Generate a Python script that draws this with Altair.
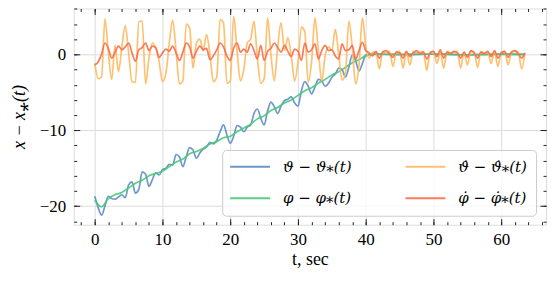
import numpy as np
import pandas as pd
import altair as alt

# ---------------- data ----------------
# theta - theta*(t): samples every 0.5 s from t=0 to 40.5, then a sparse tail
THETA_HEAD = [-18.7, -20.2, -21.2, -20.0, -18.7, -19.0, -19.1, -18.8, -18.5, -18.9,
              -17.2, -16.8, -18.3, -17.8, -15.5, -15.8, -17.4, -16.5, -15.6, -15.9,
              -15.2, -15.0, -14.5, -14.6, -13.2, -13.5, -14.8, -13.5, -12.3, -12.6,
              -13.7, -13.0, -12.5, -12.2, -11.6, -11.8, -11.3, -10.2, -9.3, -10.6,
              -11.7, -10.8, -9.4, -9.6, -10.2, -9.6, -9.3, -7.8, -7.2, -8.4,
              -9.3, -7.5, -6.3, -6.9, -7.8, -6.8, -6.1, -5.9, -5.6, -6.4,
              -6.8, -4.8, -3.6, -4.2, -5.2, -4.3, -3.3, -3.5, -4.2, -3.8,
              -3.0, -2.6, -1.8, -2.0, -3.0, -1.7, -0.1, -0.8, -2.2, -1.2,
              -0.1, 0.0]
THETA_TAIL_T = [42, 45, 48, 51, 54, 57, 60, 63.5]
THETA_TAIL = [0.05, -0.05, 0.0, 0.05, -0.05, 0.0, 0.05, 0.0]

# phi - phi*(t): samples every 1 s from t=0 to 41, then a sparse tail
PHI_HEAD = [-19.2, -20.1, -19.0, -18.5, -18.2, -17.6, -17.0, -16.6, -16.0, -15.7,
            -15.4, -14.8, -14.2, -13.8, -13.1, -12.8, -12.4, -11.8, -11.5, -11.0,
            -10.8, -10.2, -9.7, -9.2, -8.5, -8.1, -7.4, -7.0, -6.4, -6.0,
            -5.4, -4.8, -4.4, -3.8, -3.3, -2.7, -2.3, -1.7, -1.1, -0.7,
            -0.2, 0.0]
PHI_TAIL_T = [44, 48, 52, 56, 60, 63.5]
PHI_TAIL = [0.0, 0.05, 0.0, -0.05, 0.0, 0.0]

# theta-dot - theta-dot*(t): samples every 0.5 s from t=0 to 63.5
THDOT = [-1.2, -3.2, -3.0, 4.7, 0.3, -3.3, 1.2, -2.3, 1.0, 3.8,
         0.2, -3.6, -3.7, 4.3, 4.4, -3.9, -0.5, 1.5, 0.8, -1.0,
         -3.6, -2.5, 1.5, 4.5, 0.5, -3.9, -3.5, 4.0, 3.5, -1.8,
         1.5, 2.0, 0.5, 2.6, 0.0, -3.6, -3.0, 4.6, 4.2, -3.8,
         -3.5, 5.0, 0.5, -3.5, -2.0, 1.5, 2.0, 4.4, -0.5, -3.8,
         -3.2, 4.8, 0.0, -3.5, 1.0, 4.2, 0.5, 2.2, -0.2, -3.5,
         -1.0, 3.6, 3.0, -3.7, -1.0, 4.8, 0.5, -3.5, -0.2, 1.0,
         0.5, 3.3, 0.0, -3.4, -2.5, 4.4, 1.0, -3.9, -1.5, 4.8,
         1.0, -0.5, 0.3,
         0.3, -1.9, 0.4, 0.2, 0.4, -1.6, 0.3, 0.4, -1.8, 0.3,
         -1.4, 0.4, 0.2, 0.3, 0.4, -2.1, 0.3, 0.4, -1.2, 0.3,
         -1.8, 0.4, 0.2, 0.3, 0.4, -1.8, 0.3, -1.4, 0.4, 0.3,
         -1.7, 0.4, 0.2, 0.3, -1.2, 0.4, -1.6, 0.3, 0.4, -1.4,
         0.3, 0.4, 0.3, -1.9, 0.2]

# phi-dot - phi-dot*(t): samples every 0.5 s from t=0 to 63.5
PHDOT = [-1.4, -1.0, 0.0, 1.5, 0.8, -0.5, 0.3, 1.1, 0.6, 1.0,
         1.5, 0.2, -0.9, 0.6, 0.9, 1.5, 0.5, 1.1, 0.9, -0.4,
         0.2, 0.7, 0.4, 1.1, 0.2, -0.8, 0.3, 1.5, 1.0, -0.5,
         0.4, 1.1, 0.6, 0.8, -0.7, -0.2, 0.6, 1.5, 1.0, -0.2,
         -0.8, 0.8, 1.5, 0.3, 0.7, 0.3, 1.4, 0.5, -0.6, 1.2,
         -0.8, 0.4, 0.8, 1.5, 0.9, 0.3, 1.2, 0.4, -0.3, 0.7,
         0.4, -0.8, 1.5, 0.3, 0.6, 1.4, -0.6, 0.5, 1.2, 0.5,
         0.6, -0.2, -0.6, 1.4, 0.5, 0.6, 1.2, -0.6, 0.5, 1.6,
         0.5, 0.2, -0.2,
         0.4, -0.5, 0.3, 0.5, 0.1, -0.4, 0.3, 0.2, -0.5, 0.4,
         -0.3, 0.2, 0.5, 0.1, 0.3, -0.6, 0.2, 0.4, -0.3, 0.6,
         -0.5, 0.3, 0.1, 0.4, 0.2, -0.5, 0.3, -0.4, 0.5, 0.2,
         -0.5, 0.3, 0.1, 0.4, -0.3, 0.5, -0.5, 0.2, 0.4, -0.4,
         0.3, 0.5, 0.1, -0.5, 0.2]

LBL_TH = "ϑ − ϑ⁎(t)"
LBL_PH = "φ − φ⁎(t)"
LBL_THD = "ϑ̇ − ϑ̇⁎(t)"
LBL_PHD = "φ̇ − φ̇⁎(t)"

X_MAJOR = [0, 10, 20, 30, 40, 50, 60]
X_MINOR = list(range(-2, 67, 2))
Y_MAJOR = [-20, -10, 0]
Y_MINOR = list(range(-22, 7, 2))
X_DOMAIN = [-3.1, 66.6]
Y_DOMAIN = [-22.45, 6.05]

# ---------------- tables ----------------
t_half_th = [i * 0.5 for i in range(len(THETA_HEAD))]
df_th = pd.DataFrame({"t": t_half_th + THETA_TAIL_T, "v": THETA_HEAD + THETA_TAIL, "s": LBL_TH})
t_one_ph = [float(i) for i in range(len(PHI_HEAD))]
df_ph = pd.DataFrame({"t": t_one_ph + PHI_TAIL_T, "v": PHI_HEAD + PHI_TAIL, "s": LBL_PH})
df_thd = pd.DataFrame({"t": [i * 0.5 for i in range(len(THDOT))], "v": THDOT, "s": LBL_THD})
df_phd = pd.DataFrame({"t": [i * 0.5 for i in range(len(PHDOT))], "v": PHDOT, "s": LBL_PHD})

W, H = 474, 217
FONT = "Liberation Serif"
LFONT = "DejaVu Serif"

xs = alt.Scale(domain=X_DOMAIN, nice=False, zero=False)
ys = alt.Scale(domain=Y_DOMAIN, nice=False, zero=False)

legend = alt.Legend(
    orient="none", legendX=149, legendY=142, columns=2, title=None,
    symbolType="M-1.7,0H6.3", symbolSize=100, symbolStrokeWidth=2,
    labelOffset=37, labelFont=LFONT, labelFontSize=15, labelFontStyle="italic",
    labelColor="black", rowPadding=16, columnPadding=50, padding=9,
    fillColor="rgba(255,255,255,0.8)", strokeColor="#cccccc", cornerRadius=4,
)
color = alt.Color(
    "s:N",
    scale=alt.Scale(domain=[LBL_TH, LBL_PH, LBL_THD, LBL_PHD],
                    range=["#5a8ac6", "#45c873", "#ffb85c", "#fb6a45"]),
    legend=legend,
)


def tick_axis(orient, values, size, offset):
    return alt.Axis(orient=orient, values=values, tickSize=size, offset=offset,
                    labels=False, domain=False, grid=False, title=None,
                    tickColor="#222222", tickWidth=1)


lab_x = alt.Axis(orient="bottom", values=X_MAJOR, ticks=False, tickSize=0, domain=False,
                 grid=True, gridColor="#dcdcdc", gridWidth=1, labelPadding=7,
                 labelFont=FONT, labelFontSize=17, labelColor="black", format="d",
                 title="t, sec", titleFont=FONT, titleFontSize=18, titleFontWeight="normal",
                 titleColor="black", titlePadding=3)
lab_y = alt.Axis(orient="left", values=Y_MAJOR, ticks=False, tickSize=0, domain=False,
                 grid=True, gridColor="#dcdcdc", gridWidth=1, labelPadding=8,
                 labelFont=FONT, labelFontSize=17, labelColor="black", format="d",
                 title="x − x⁎(t)", titleFont=FONT, titleFontSize=18, titleFontStyle="italic",
                 titleFontWeight="normal", titleColor="black", titlePadding=11)


def series(df, xaxis, yaxis):
    return alt.Chart(df).mark_line(strokeWidth=1.7, opacity=0.88, interpolate="monotone").encode(
        x=alt.X("t:Q", scale=xs, axis=xaxis),
        y=alt.Y("v:Q", scale=ys, axis=yaxis),
        color=color,
    )


l1 = series(df_th, lab_x, lab_y)
l2 = series(df_ph, tick_axis("top", X_MAJOR, 6, -H), tick_axis("right", Y_MAJOR, 6, -W))
l3 = series(df_thd, tick_axis("top", X_MINOR, 3, -H), tick_axis("right", Y_MINOR, 3, -W))
l4 = series(df_phd, tick_axis("bottom", X_MAJOR, 6, -H), tick_axis("left", Y_MAJOR, 6, -W))
l5 = alt.Chart(df_ph).mark_line(opacity=0).encode(
    x=alt.X("t:Q", scale=xs, axis=tick_axis("bottom", X_MINOR, 3, -H)),
    y=alt.Y("v:Q", scale=ys, axis=tick_axis("left", Y_MINOR, 3, -W)),
)

chart = (
    alt.layer(l1, l2, l3, l4, l5)
    .resolve_axis(x="independent", y="independent")
    .properties(width=W, height=H, autosize=alt.AutoSizeParams(type="none"),
                padding={"left": 66, "top": 0, "right": 2, "bottom": 48})
    .configure_view(stroke="#222222", strokeWidth=1)
    .configure(background="white")
)

chart.save("out.html", embed_options={"renderer": "svg", "actions": False})
